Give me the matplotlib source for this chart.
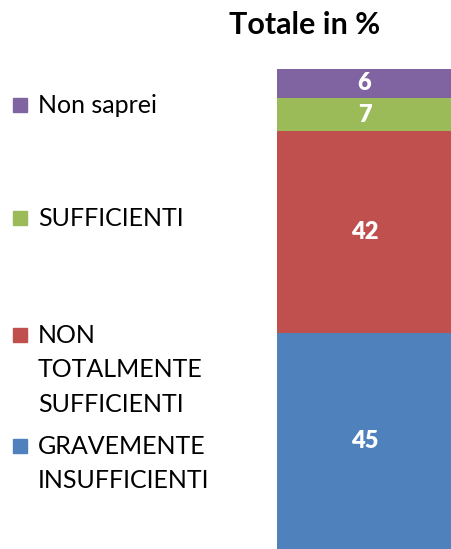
import matplotlib.pyplot as plt

# Data (percent, bottom to top)
categories = ["GRAVEMENTE\nINSUFFICIENTI", "NON\nTOTALMENTE\nSUFFICIENTI", "SUFFICIENTI", "Non saprei"]
values = [45, 42, 7, 6]
colors = ["#4F81BD", "#C0504D", "#9BBB59", "#8064A2"]
title = "Totale in %"

plt.rcParams["font.family"] = ["Lato", "DejaVu Sans"]

fig = plt.figure(figsize=(4.52, 5.49), dpi=100)
ax = fig.add_axes([277 / 452, 0, 175 / 452, 480 / 549])

bottom = 0
for cat, val, col in zip(categories, values, colors):
    ax.bar(0, val, width=1.0, bottom=bottom, color=col)
    ax.text(0, bottom + val / 2, str(val), ha="center", va="center",
            color="white", fontsize=17, fontweight="heavy")
    bottom += val

ax.set_xlim(-0.5, 0.5)
ax.set_ylim(0, sum(values))
ax.axis("off")

fig.text(305 / 452, 1 - 25 / 549, title, ha="center", va="center",
         fontsize=22, fontweight="bold")

# legend entries placed by hand, top to bottom
legend_y = [446, 335, 218, 105]
for cat, col, y in zip(categories, colors, legend_y):
    fy = 1 - y / 549
    fig.patches.append(plt.Rectangle((13 / 452, fy - 7 / 549), 14 / 452, 14 / 549,
                                     transform=fig.transFigure, color=col))
    fig.text(38 / 452, fy + 11 / 549, cat, ha="left", va="top",
             fontsize=18, linespacing=1.6)

plt.savefig("out.png", dpi=100)
plt.close()
